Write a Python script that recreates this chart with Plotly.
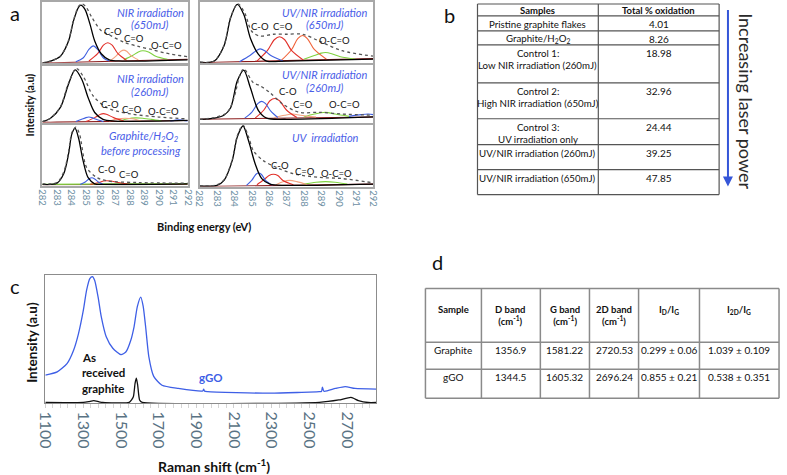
import plotly.graph_objects as go

W, H = 787, 475
def fx(x): return x / W
def fy(y): return 1 - y / H

FONT = "Lato"

# ---------------- panel a : XPS C1s fits (normalised intensity) ----------------
NIR650 = {
    "base": ([282, 283.5, 292], [0.0, 0.005, 0.06]),
    "oco": ([287.6, 288.2, 288.6, 288.9, 289.3, 289.8, 290.6], [0.05, 0.12, 0.18, 0.2, 0.18, 0.11, 0.06]),
    "c3": ([286.7, 287.1, 287.4, 287.6, 287.8, 288.1, 288.6], [0.04, 0.12, 0.19, 0.21, 0.19, 0.12, 0.05]),
    "c2": ([285.2, 285.8, 286.2, 286.5, 286.8, 287.2, 287.8], [0.03, 0.15, 0.29, 0.33, 0.29, 0.15, 0.04]),
    "co": ([284.3, 284.8, 285.2, 285.5, 285.8, 286.2, 286.6], [0.02, 0.08, 0.22, 0.28, 0.22, 0.08, 0.03]),
    "cc": ([282, 282.56, 283.24, 283.8, 284.14, 284.48, 284.64, 284.93, 285.27, 285.6, 286.05, 286.6, 287.5, 292],
           [0.0, 0.03, 0.11, 0.36, 0.69, 0.91, 0.95, 0.88, 0.64, 0.36, 0.15, 0.05, 0.03, 0.05]),
    "env": ([282, 282.56, 283.24, 283.8, 284.14, 284.5, 284.72, 285.0, 285.4, 286.0, 286.6, 287.7, 288.6, 289.5, 290.5, 292],
            [0.0, 0.03, 0.11, 0.37, 0.7, 0.93, 0.97, 0.92, 0.75, 0.54, 0.46, 0.33, 0.27, 0.22, 0.16, 0.1]),
}
NIR260 = {
    "base": ([282, 283, 292], [0.01, 0.01, 0.04]),
    "oco": ([287.3, 287.9, 288.4, 288.9, 289.5, 290.2], [0.03, 0.07, 0.085, 0.08, 0.06, 0.03]),
    "c3": ([286.6, 287.2, 287.7, 288.2, 288.8], [0.03, 0.07, 0.08, 0.07, 0.03]),
    "c2": ([285.0, 285.6, 286.0, 286.2, 286.4, 286.9, 287.6], [0.02, 0.09, 0.15, 0.16, 0.15, 0.09, 0.03]),
    "co": ([284.3, 284.7, 285.0, 285.2, 285.4, 285.7, 286.2], [0.02, 0.06, 0.09, 0.1, 0.09, 0.06, 0.02]),
    "blue2": ([290.8, 291.4, 292], [0.03, 0.05, 0.03]),
    "cc": ([282, 282.56, 283.24, 283.8, 284.25, 284.7, 285.15, 285.6, 286.17, 287, 292],
           [0.02, 0.08, 0.27, 0.68, 0.93, 0.77, 0.44, 0.18, 0.06, 0.03, 0.04]),
    "env": ([282, 282.56, 283.24, 283.8, 284.35, 284.8, 285.5, 286.4, 287.2, 288.2, 290, 291.8],
            [0.02, 0.08, 0.28, 0.7, 0.95, 0.82, 0.47, 0.27, 0.2, 0.15, 0.1, 0.07]),
}
GRAPHITE_H2O2 = {
    "base": ([282, 292], [0.015, 0.025]),
    "oco": ([282, 285, 288, 292], [0.02, 0.025, 0.03, 0.03]),
    "c2": ([285.3, 285.9, 286.2, 286.4, 286.7, 287.2, 288.0], [0.02, 0.05, 0.075, 0.08, 0.075, 0.05, 0.02]),
    "co": ([284.6, 284.95, 285.2, 285.4, 285.6, 285.85, 286.2], [0.02, 0.06, 0.11, 0.13, 0.11, 0.06, 0.02]),
    "cc": ([282, 283.0, 283.46, 283.8, 284.03, 284.25, 284.48, 284.8, 285.15, 285.6, 286.2, 292],
           [0.02, 0.04, 0.19, 0.52, 0.85, 0.94, 0.79, 0.41, 0.13, 0.03, 0.02, 0.03]),
    "env": ([282, 283.0, 283.46, 283.8, 284.03, 284.3, 284.55, 285.04, 285.7, 286.4, 288.6, 292],
            [0.03, 0.05, 0.22, 0.55, 0.87, 0.96, 0.85, 0.3, 0.14, 0.08, 0.05, 0.04]),
}
UVNIR650 = {
    "base": ([282, 283, 292], [0.0, 0.01, 0.07]),
    "oco": ([288.0, 288.6, 289.0, 289.25, 289.6, 290.1, 291.0], [0.06, 0.12, 0.16, 0.17, 0.15, 0.1, 0.06]),
    "c3": ([286.7, 287.3, 287.65, 287.93, 288.2, 288.6, 289.3], [0.04, 0.22, 0.4, 0.45, 0.4, 0.22, 0.06]),
    "c2": ([285.3, 285.9, 286.3, 286.6, 286.9, 287.3, 288.0], [0.03, 0.2, 0.38, 0.43, 0.38, 0.2, 0.04]),
    "co": ([284.3, 284.9, 285.25, 285.48, 285.75, 286.1, 286.8], [0.02, 0.12, 0.2, 0.23, 0.2, 0.12, 0.03]),
    "cc": ([282, 282.85, 283.41, 283.79, 284.17, 284.54, 284.92, 285.39, 285.86, 287, 292],
           [0.01, 0.03, 0.28, 0.74, 0.96, 0.8, 0.41, 0.14, 0.03, 0.03, 0.06]),
    "env": ([282, 282.85, 283.41, 283.79, 284.2, 284.6, 285.0, 285.48, 286.24, 286.99, 287.93, 288.87, 290.2, 292],
            [0.01, 0.03, 0.29, 0.75, 0.97, 0.82, 0.52, 0.44, 0.47, 0.47, 0.47, 0.36, 0.2, 0.11]),
}
UVNIR260 = {
    "base": ([282, 292], [0.06, 0.1]),
    "oco": ([288.0, 288.6, 289.25, 289.8, 290.6], [0.1, 0.15, 0.18, 0.15, 0.11]),
    "c3": ([286.3, 286.9, 287.37, 287.8, 288.7], [0.09, 0.13, 0.15, 0.13, 0.1]),
    "c2": ([285.2, 285.7, 286.05, 286.33, 286.6, 287.0, 287.6], [0.08, 0.22, 0.38, 0.42, 0.38, 0.22, 0.09]),
    "co": ([284.6, 285.0, 285.35, 285.58, 285.8, 286.1, 286.5], [0.08, 0.18, 0.33, 0.37, 0.33, 0.2, 0.09]),
    "blue2": ([290.6, 291.3, 291.7, 292], [0.11, 0.14, 0.15, 0.14]),
    "cc": ([282, 282.85, 283.4, 283.79, 284.17, 284.54, 284.92, 285.39, 285.86, 287, 292],
           [0.06, 0.08, 0.13, 0.26, 0.72, 0.91, 0.61, 0.21, 0.08, 0.06, 0.1]),
    "env": ([282, 282.85, 283.6, 284.0, 284.3, 284.54, 285.1, 285.48, 286.05, 286.8, 287.74, 288.87, 290.2, 292],
            [0.06, 0.09, 0.18, 0.45, 0.8, 0.93, 0.69, 0.64, 0.52, 0.32, 0.18, 0.18, 0.15, 0.13]),
}
UVONLY = {
    "base": ([282, 292], [0.0, 0.04]),
    "oco": ([288.0, 288.7, 289.25, 289.8, 290.5], [0.04, 0.07, 0.08, 0.07, 0.04]),
    "c3": ([286.4, 286.8, 287.18, 287.6, 288.2], [0.03, 0.08, 0.1, 0.08, 0.03]),
    "c2": ([285.3, 285.7, 286.0, 286.24, 286.5, 286.8, 287.4], [0.03, 0.11, 0.18, 0.2, 0.18, 0.1, 0.03]),
    "co": ([284.7, 285.0, 285.25, 285.39, 285.55, 285.8, 286.2], [0.02, 0.1, 0.2, 0.22, 0.2, 0.1, 0.02]),
    "cc": ([282, 283.0, 283.41, 283.88, 284.17, 284.5, 284.82, 285.2, 285.58, 286.05, 287, 292],
           [0.01, 0.02, 0.1, 0.42, 0.8, 0.98, 0.74, 0.37, 0.13, 0.04, 0.02, 0.04]),
    "env": ([282, 283.0, 283.41, 283.88, 284.17, 284.5, 284.8, 285.1, 285.67, 286.42, 287.37, 288.87, 290.2, 292],
            [0.01, 0.03, 0.11, 0.43, 0.82, 0.99, 0.82, 0.58, 0.42, 0.31, 0.21, 0.15, 0.13, 0.06]),
}
BE_TICKS = [282, 283, 284, 285, 286, 287, 288, 289, 290, 291, 292]

A_TITLES = [
    ["NIR irradiation", "(650mJ)"],
    ["NIR irradiation", "(260mJ)"],
    ["Graphite/H<sub>2</sub>O<sub>2</sub>", "before processing"],
    ["UV/NIR irradiation", "(650mJ)"],
    ["UV/NIR irradiation", "(260mJ)"],
    ["UV  irradiation"],
]
A_PEAK_LABELS = [
    ["C-O", "C=O", "O-C=O"],
    ["C-O", "C=O", "O-C=O"],
    ["C-O", "C=O"],
    ["C-O", "C=O", "O-C=O"],
    ["C-O", "C=O", "O-C=O"],
    ["C-O", "C=O", "O-C=O"],
]

# ---------------- panel b : table ----------------
B_HEADER = ["Samples", "Total % oxidation"]
B_SAMPLES = [
    ["Pristine graphite flakes"],
    ["Graphite/H<sub>2</sub>O<sub>2</sub>"],
    ["Control 1:", "Low NIR irradiation (260mJ)"],
    ["Control 2:", "High NIR irradiation (650mJ)"],
    ["Control 3:", "UV irradiation only"],
    ["UV/NIR irradiation (260mJ)"],
    ["UV/NIR irradiation (650mJ)"],
]
B_OXIDATION = ["4.01", "8.26", "18.98", "32.96", "24.44", "39.25", "47.85"]

# ---------------- panel c : Raman spectra (normalised) ----------------
GGO_SHIFT = [1100, 1163, 1215, 1250, 1276, 1302, 1319, 1336, 1350, 1362, 1380, 1397, 1423, 1458, 1501,
             1527, 1553, 1571, 1588, 1606, 1619, 1632, 1649, 1675, 1719, 1805, 1935, 1940, 1945, 1962,
             2292, 2553, 2565, 2570, 2578, 2639, 2691, 2743, 2856]
GGO_INT = [0.22, 0.245, 0.31, 0.415, 0.545, 0.73, 0.885, 0.975, 0.99, 0.96, 0.83, 0.675, 0.52, 0.43, 0.38,
           0.40, 0.49, 0.6, 0.755, 0.83, 0.76, 0.6, 0.365, 0.21, 0.14, 0.115, 0.095, 0.11, 0.094, 0.09,
           0.078, 0.09, 0.092, 0.125, 0.093, 0.115, 0.13, 0.115, 0.11]
GRAPHITE_SHIFT = [1100, 1302, 1330, 1357, 1385, 1405, 1545, 1567, 1576, 1583, 1590, 1600, 1614,
                  2553, 2657, 2722, 2761, 2813, 2856]
GRAPHITE_INT = [0.005, 0.006, 0.012, 0.02, 0.01, 0.005, 0.006, 0.05, 0.155, 0.195, 0.14, 0.025, 0.006,
                0.006, 0.025, 0.045, 0.02, 0.005, 0.005]
RAMAN_TICKS = [1100, 1300, 1500, 1700, 1900, 2100, 2300, 2500, 2700]

# ---------------- panel d : table ----------------
D_HEADER = ["<b>Sample</b>", "<b>D band</b><br><b>(cm<sup>-1</sup>)</b>", "<b>G band</b><br><b>(cm<sup>-1</sup>)</b>",
            "<b>2D band</b><br><b>(cm<sup>-1</sup>)</b>", "<b>I<sub>D</sub>/I<sub>G</sub></b>",
            "<b>I<sub>2D</sub>/I<sub>G</sub></b>"]
D_ROWS = [
    ["Graphite", "1356.9", "1581.22", "2720.53", "0.299 ± 0.06", "1.039 ± 0.109"],
    ["gGO", "1344.5", "1605.32", "2696.24", "0.855 ± 0.21", "0.538 ± 0.351"],
]

# ======================= build figure =======================
fig = go.Figure()

COLORS = {"base": "#8b1a1a", "oco": "#7fd23f", "c3": "#f4a27e", "c2": "#e2302a",
          "co": "#3f5fe0", "blue2": "#3f5fe0", "cc": "#000000", "env": "#555555"}

# layout geometry (pixels)
COL_X = [(35, 183), (195, 372)]
ROW_Y = [[(1, 62), (65, 122), (124, 185)], [(1, 62), (64, 122), (124, 186)]]
A_DATA = [NIR650, NIR260, GRAPHITE_H2O2, UVNIR650, UVNIR260, UVONLY]
TITLE_POS = [[(145, 12), (145, 24)], [(145, 78), (145, 91)], [(138, 136), (135, 150)],
             [(323, 12), (323, 24)], [(323, 74), (323, 87)], [(323, 137)]]
PEAK_POS = [[(107, 31), (128, 38), (161, 45)], [(104, 104), (126, 109), (158, 111)],
            [(101, 169), (123, 174)], [(257, 26), (280, 26), (332, 40)],
            [(285, 91), (300, 104), (343, 104)], [(277, 165), (302, 171), (334, 173)]]

layout = {}
annotations = []
shapes = []

for i, data in enumerate(A_DATA):
    col, row = i // 3, i % 3
    k = i + 1
    xa, ya = ("x" if k == 1 else f"x{k}"), ("y" if k == 1 else f"y{k}")
    for key in ["base", "oco", "c3", "c2", "co", "blue2", "cc", "env"]:
        if key not in data:
            continue
        xs, ys = data[key]
        color = COLORS[key]
        if i == 3 and key == "c3":
            color = "#f0643a"
        line = dict(color=color, width=1.1, shape="spline", smoothing=0.9)
        if key == "env":
            line.update(dash="dot", width=1.3)
        if key == "cc":
            line.update(width=1.3)
        fig.add_trace(go.Scatter(x=xs, y=ys, mode="lines", line=line, xaxis=xa, yaxis=ya,
                                 showlegend=False, hoverinfo="skip"))
    x0, x1 = COL_X[col]
    y0, y1 = ROW_Y[col][row]
    xname = "xaxis" if k == 1 else f"xaxis{k}"
    yname = "yaxis" if k == 1 else f"yaxis{k}"
    layout[xname] = dict(domain=[fx(x0), fx(x1)], range=[282, 292], anchor=ya,
                         showline=True, mirror=True, linecolor="#a8a8a8", linewidth=1.5,
                         showgrid=False, zeroline=False, tickvals=BE_TICKS, ticks="",
                         showticklabels=(row == 2), tickangle=90,
                         tickfont=dict(family=FONT, size=9.5, color="#6c8ea3"))
    layout[yname] = dict(domain=[fy(y1), fy(y0)], range=[0, 1.0], anchor=xa,
                         showline=True, mirror=True, linecolor="#a8a8a8", linewidth=1.5,
                         showgrid=False, zeroline=False, showticklabels=False, ticks="")
    for txt, (px_, py_) in zip(A_TITLES[i], TITLE_POS[i]):
        annotations.append(dict(x=fx(px_), y=fy(py_), xref="paper", yref="paper", showarrow=False,
                                text=f"<i>{txt}</i>", font=dict(family=FONT, size=11, color="#4a5ee8"),
                                xanchor="center", yanchor="middle"))
    for txt, (px_, py_) in zip(A_PEAK_LABELS[i], PEAK_POS[i]):
        annotations.append(dict(x=fx(px_), y=fy(py_), xref="paper", yref="paper", showarrow=False,
                                text=txt, font=dict(family=FONT, size=9.5, color="#111"),
                                xanchor="center", yanchor="middle"))

# panel c axes
fig.add_trace(go.Scatter(x=GGO_SHIFT, y=GGO_INT, mode="lines", xaxis="x7", yaxis="y7",
                         line=dict(color="#3e5fe6", width=1.3, shape="spline", smoothing=0.6),
                         showlegend=False, hoverinfo="skip"))
fig.add_trace(go.Scatter(x=GRAPHITE_SHIFT, y=GRAPHITE_INT, mode="lines", xaxis="x7", yaxis="y7",
                         line=dict(color="#111", width=1.3, shape="spline", smoothing=0.5),
                         showlegend=False, hoverinfo="skip"))
layout["xaxis7"] = dict(domain=[fx(38), fx(375)], range=[1100, 2856], anchor="y7",
                        showline=True, mirror=True, linecolor="#8c8c8c", linewidth=1.2,
                        showgrid=False, zeroline=False, tickvals=RAMAN_TICKS, ticks="outside",
                        ticklen=4, tickcolor="#cfcfcf", tickangle=90,
                        minor=dict(dtick=40, tick0=1100, ticks="outside", ticklen=4, tickcolor="#d5d5d5"),
                        tickfont=dict(family=FONT, size=16, color="#5a7384"))
layout["yaxis7"] = dict(domain=[fy(403), fy(275)], range=[0, 1.0], anchor="x7",
                        showline=True, mirror=True, linecolor="#8c8c8c", linewidth=1.2,
                        showgrid=False, zeroline=False, showticklabels=False, ticks="")

def ann(x, y, text, size=10, color="#111", bold=False, xanchor="center", yanchor="middle", angle=0):
    if bold:
        text = f"<b>{text}</b>"
    annotations.append(dict(x=fx(x), y=fy(y), xref="paper", yref="paper", showarrow=False, text=text,
                            font=dict(family=FONT, size=size, color=color), xanchor=xanchor,
                            yanchor=yanchor, textangle=angle))

def hline(x0, x1, y, color, w):
    shapes.append(dict(type="line", xref="paper", yref="paper", x0=fx(x0), x1=fx(x1), y0=fy(y), y1=fy(y),
                       line=dict(color=color, width=w)))

def vline(x, y0, y1, color, w):
    shapes.append(dict(type="line", xref="paper", yref="paper", x0=fx(x), x1=fx(x), y0=fy(y0), y1=fy(y1),
                       line=dict(color=color, width=w)))

# panel a texts
ann(7, 12, "a", size=20)
ann(200, 226, "Binding energy (eV)", size=11, bold=True)
ann(22, 104, "Intensity (a.u)", size=10.5, bold=True, angle=-90)

# panel c texts
ann(7, 286, "c", size=20)
ann(25, 342, "Intensity (a.u)", size=13.5, bold=True, angle=-90)
ann(210, 465, "Raman shift (cm<sup>-1</sup>)", size=14, bold=True)
ann(73, 357, "As", size=11.5, bold=True, xanchor="left")
ann(73, 372, "received", size=11.5, bold=True, xanchor="left")
ann(73, 388, "graphite", size=11.5, bold=True, xanchor="left")
ann(207, 377, "gGO", size=11.5, bold=True, color="#3e5fe6")

# panel b table
BX = [478, 601, 724]
BY = [3, 15, 30, 44, 82, 118, 144, 169, 194]
BC = "#555555"
for y in BY:
    hline(BX[0], BX[2], y, BC, 1.2)
for x in BX:
    vline(x, BY[0], BY[-1], BC, 1.2)
ann(450, 14, "b", size=20)
ann((BX[0] + BX[1]) / 2, 10, B_HEADER[0], size=9.5, bold=True)
ann((BX[1] + BX[2]) / 2, 10, B_HEADER[1], size=9.5, bold=True)
for r, (lines, val) in enumerate(zip(B_SAMPLES, B_OXIDATION)):
    top = BY[r + 1]
    for j, t in enumerate(lines):
        ann((BX[0] + BX[1]) / 2, top + 8 + 12.5 * j, t, size=9.7)
    ann((BX[1] + BX[2]) / 2, top + 8, val, size=10)
annotations.append(dict(x=fx(733), y=fy(186), xref="paper", yref="paper",
                        axref="pixel", ayref="pixel", ax=0, ay=-178, text="", showarrow=True,
                        arrowhead=2, arrowsize=1, arrowwidth=2, arrowcolor="#3556d8"))
ann(752, 100, "Increasing laser power", size=18, color="#2a2a2a", angle=90)

# panel d table
DX = [425, 482, 542, 592, 642, 704, 785]
DY = [288, 342, 369, 398]
DC = "#8a8a8a"
for y in DY:
    hline(DX[0], DX[-1], y, DC, 1.5)
for x in DX:
    vline(x, DY[0], DY[-1], DC, 1.5)
ann(437, 262, "d", size=20)
for c, t in enumerate(D_HEADER):
    annotations.append(dict(x=fx((DX[c] + DX[c + 1]) / 2), y=fy(302), xref="paper", yref="paper",
                            showarrow=False, text=t, font=dict(family=FONT, size=9.5, color="#111"),
                            xanchor="center", yanchor="top"))
for r, row in enumerate(D_ROWS):
    for c, t in enumerate(row):
        ann((DX[c] + DX[c + 1]) / 2, DY[r + 1] + 8, t, size=10)

fig.update_layout(width=W, height=H, margin=dict(l=0, r=0, t=0, b=0), paper_bgcolor="white",
                  plot_bgcolor="white", showlegend=False, annotations=annotations, shapes=shapes,
                  **layout)
fig.write_html("out.html")
